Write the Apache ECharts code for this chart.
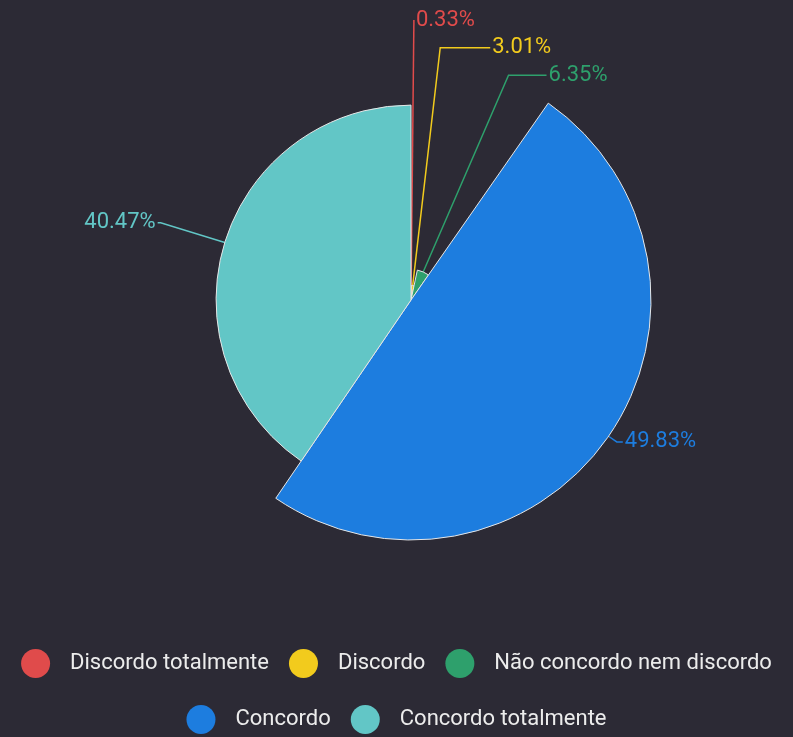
<!DOCTYPE html>
<html>
<head>
<meta charset="utf-8">
<script src="https://cdn.jsdelivr.net/npm/echarts@6/dist/echarts.min.js"></script>
<style>
html,body{margin:0;padding:0;background:#2c2a35;}
#chart{width:793px;height:737px;}
</style>
</head>
<body>
<div id="chart"></div>
<script>
const categories = ['Discordo totalmente', 'Discordo', 'Não concordo nem discordo', 'Concordo', 'Concordo totalmente'];
const values = [0.33, 3.01, 6.35, 49.83, 40.47];
const colors = ['#e04b4b', '#f2cb1d', '#2ea06c', '#1d7ddf', '#62c6c6'];
const lineLen = [40, 14, 5, 10, 22];
const lineLen2 = [0, 50, 38, 6, 3];
const legendRow1 = categories.slice(0, 3);
const legendRow2 = categories.slice(3);

const chart = echarts.init(document.getElementById('chart'));
const legendCommon = {
  orient: 'horizontal',
  left: 'center',
  icon: 'circle',
  itemWidth: 29,
  itemHeight: 29,
  itemGap: 20,
  itemStyle: { borderWidth: 0 },
  textStyle: { color: '#ececec', fontSize: 22, fontFamily: 'Roboto', padding: [0, 0, 0, 15] }
};
chart.setOption({
  backgroundColor: '#2c2a35',
  color: colors,
  legend: [
    Object.assign({}, legendCommon, { top: 644, data: legendRow1 }),
    Object.assign({}, legendCommon, { top: 700, data: legendRow2 })
  ],
  series: [{
    type: 'pie',
    roseType: 'radius',
    center: [411, 300],
    radius: [0, 240],
    startAngle: 90,
    clockwise: true,
    avoidLabelOverlap: false,
    labelLayout: { hideOverlap: false },
    itemStyle: { borderColor: '#e6e6e6', borderWidth: 1 },
    label: {
      show: true,
      fontSize: 22,
      fontFamily: 'Roboto',
      lineHeight: 24,
      formatter: p => p.value.toFixed(2) + '%',
      distanceToLabelLine: 2
    },
    labelLine: { show: true, minTurnAngle: 0, maxSurfaceAngle: 180, lineStyle: { width: 1.5 } },
    data: categories.map((c, i) => ({
      name: c,
      value: values[i],
      label: { color: colors[i] },
      labelLine: { length: lineLen[i], length2: lineLen2[i] }
    }))
  }]
});
</script>
</body>
</html>
